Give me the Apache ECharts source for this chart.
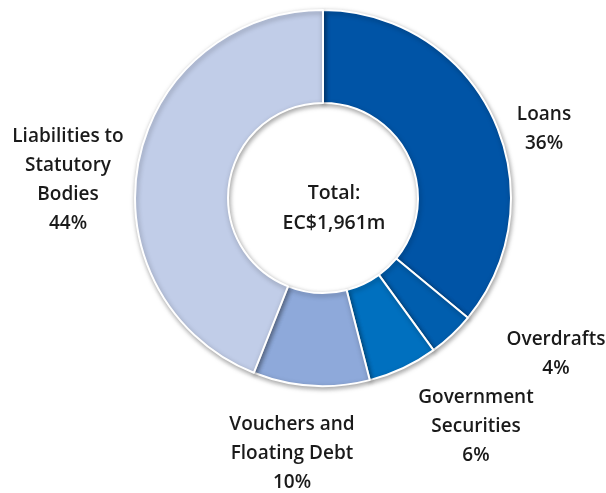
<!DOCTYPE html>
<html>
<head>
<meta charset="utf-8">
<script src="https://cdn.jsdelivr.net/npm/echarts@6/dist/echarts.min.js"></script>
<style>
  html, body { margin: 0; padding: 0; background: #fff; }
  #chart { width: 606px; height: 493px; }
</style>
</head>
<body>
<div id="chart"></div>
<script>
// Composition of debt, shares in percent
const categories = ['Loans', 'Overdrafts', 'Government\nSecurities', 'Vouchers and\nFloating Debt', 'Liabilities to\nStatutory\nBodies'];
const shares = [36, 4, 6, 10, 44];
const totalText = 'Total:\nEC$1,961m';

const colors = ['#0054A6', '#005EAE', '#0070BF', '#8EA9DA', '#C1CDE8'];
// label anchor points (centre of each text block)
const labelSpots = [[544, 129], [556, 354], [476, 427], [292, 454], [68, 180]];

const fontFamily = '"Open Sans"';

const chart = echarts.init(document.getElementById('chart'));
chart.setOption({
  animation: false,
  color: colors,
  graphic: [{
    type: 'text',
    style: {
      text: totalText,
      x: 334, y: 208,
      align: 'center',
      verticalAlign: 'middle',
      font: '600 19.5px ' + fontFamily,
      lineHeight: 30,
      fill: '#1a1a1a'
    }
  }],
  series: [{
    type: 'pie',
    center: [323, 198],
    radius: [95, 188],
    startAngle: 90,
    clockwise: true,
    data: categories.map((n, i) => ({ name: n, value: shares[i] })),
    itemStyle: {
      borderColor: '#fff',
      borderWidth: 2,
      shadowBlur: 5,
      shadowColor: 'rgba(0,0,0,0.35)',
      shadowOffsetX: 1,
      shadowOffsetY: 2
    },
    label: {
      show: true,
      position: 'outside',
      formatter: p => p.name + '\n' + p.value + '%',
      fontFamily: fontFamily,
      fontWeight: 600,
      fontSize: 19,
      lineHeight: 29,
      color: '#1a1a1a',
      align: 'center',
      overflow: 'none',
      width: 200
    },
    labelLine: { show: false },
    labelLayout: p => ({
      x: labelSpots[p.dataIndex][0],
      y: labelSpots[p.dataIndex][1],
      align: 'center',
      verticalAlign: 'middle'
    })
  }]
});
</script>
</body>
</html>
